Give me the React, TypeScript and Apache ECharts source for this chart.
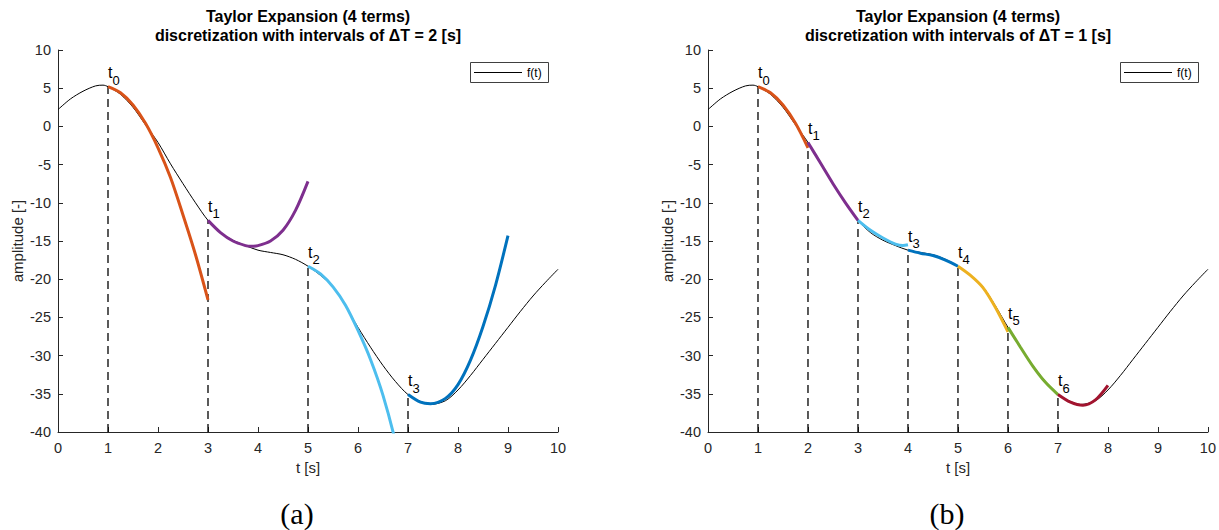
import React, { useEffect, useRef } from "react";
import * as echarts from "echarts";

// f(t)
const fT = [0, 0.25, 0.5, 0.75, 0.9, 1, 1.25, 1.5, 1.75, 2, 2.25, 2.5, 2.75, 3, 3.25, 3.5, 3.75, 4, 4.25, 4.5, 4.75, 5, 5.25, 5.5, 5.75, 6, 6.25, 6.5, 6.75, 7, 7.25, 7.45, 7.75, 8, 8.25, 8.5, 8.75, 9, 9.25, 9.5, 9.75, 10];
const fY = [2.2, 3.6, 4.6, 5.3, 5.4, 5.2, 4.2, 2.5, 0.2, -2.1, -4.9, -7.5, -10.0, -12.3, -13.9, -14.9, -15.6, -16.2, -16.5, -16.8, -17.4, -18.3, -19.5, -21.0, -23.5, -26.3, -28.9, -31.3, -33.4, -35.1, -36.0, -36.4, -35.9, -34.5, -32.6, -30.5, -28.4, -26.3, -24.2, -22.2, -20.4, -18.7];

// (a) ΔT = 2 segments
const aOrangeT = [1, 1.25, 1.5, 1.75, 2, 2.25, 2.5, 2.75, 3];
const aOrangeY = [5.2, 4.4, 2.8, 0.4, -2.8, -6.7, -11.6, -16.8, -22.7];
const aPurpleT = [3, 3.25, 3.5, 3.75, 3.85, 4, 4.25, 4.5, 4.75, 5];
const aPurpleY = [-12.3, -13.9, -15.0, -15.6, -15.7, -15.6, -15.0, -13.6, -11.0, -7.2];
const aCyanT = [5, 5.25, 5.5, 5.75, 6, 6.25, 6.5, 6.75, 7];
const aCyanY = [-18.3, -19.3, -21.0, -23.4, -26.7, -30.5, -35.2, -41.3, -49.0];
const aBlueT = [7, 7.25, 7.45, 7.75, 8, 8.25, 8.5, 8.75, 9];
const aBlueY = [-35.1, -36.1, -36.3, -35.6, -33.8, -30.6, -26.2, -20.8, -14.3];
const aNodeT = [1, 3, 5, 7];
const aNodeY = [5.2, -12.3, -18.3, -35.1];

// (b) ΔT = 1 segments
const bOrangeT = [1, 1.25, 1.5, 1.75, 2];
const bOrangeY = [5.2, 4.4, 2.8, 0.4, -2.8];
const bPurpleT = [2, 2.25, 2.5, 2.75, 3];
const bPurpleY = [-2.1, -4.8, -7.5, -10.0, -12.3];
const bCyanT = [3, 3.25, 3.5, 3.75, 3.9, 4];
const bCyanY = [-12.3, -13.6, -14.6, -15.4, -15.6, -15.5];
const bBlueT = [4, 4.25, 4.5, 4.75, 5];
const bBlueY = [-16.2, -16.6, -16.9, -17.5, -18.3];
const bYellowT = [5, 5.25, 5.5, 5.75, 6];
const bYellowY = [-18.3, -19.5, -21.1, -23.7, -26.9];
const bGreenT = [6, 6.25, 6.5, 6.75, 7];
const bGreenY = [-26.3, -28.9, -31.4, -33.5, -35.1];
const bRedT = [7, 7.25, 7.5, 7.75, 8];
const bRedY = [-35.1, -36.1, -36.5, -35.8, -33.9];
const bNodeT = [1, 2, 3, 4, 5, 6, 7];
const bNodeY = [5.2, -2.1, -12.3, -16.2, -18.3, -26.3, -35.1];

const titleLine1 = "Taylor Expansion (4 terms)";
const titleLine2 = ["discretization with intervals of ΔT = 2 [s]", "discretization with intervals of ΔT = 1 [s]"];
const captions = ["(a)", "(b)"];
const legendLabel = "f(t)";

const C = {
  orange: "#D95319",
  purple: "#7E2F8E",
  cyan: "#4DBEEE",
  blue: "#0072BD",
  yellow: "#EDB120",
  green: "#77AC30",
  red: "#A2142F",
};

const pairs = (t: number[], y: number[]) => t.map((v, i) => [v, y[i]]);

export default function App() {
  const ref = useRef<HTMLDivElement>(null);
  useEffect(() => {
    const chart = echarts.init(ref.current!, null, { renderer: "svg" });
    const FONT = "'Liberation Sans', Arial, Helvetica, sans-serif";
    const AX = "#262626";
    const gridLeft = [58, 708];

    const xAxis = [0, 1].map((i) => ({
      type: "value",
      gridIndex: i,
      min: 0,
      max: 10,
      interval: 1,
      name: "t [s]",
      nameLocation: "middle",
      nameGap: 26,
      nameTextStyle: { fontSize: 15, color: AX, fontFamily: FONT },
      axisLine: { onZero: false, lineStyle: { color: AX, width: 1 } },
      axisTick: { inside: true, length: 5, lineStyle: { color: AX } },
      axisLabel: { fontSize: 14.5, color: AX, fontFamily: FONT, margin: 8 },
      splitLine: { show: false },
    }));
    const yAxis = [0, 1].map((i) => ({
      type: "value",
      gridIndex: i,
      min: -40,
      max: 10,
      interval: 5,
      name: "amplitude [-]",
      nameLocation: "middle",
      nameGap: 33,
      nameRotate: 90,
      nameTextStyle: { fontSize: 15, color: AX, fontFamily: FONT },
      axisLine: { show: true, onZero: false, lineStyle: { color: AX, width: 1 } },
      axisTick: { show: true, inside: true, length: 5, lineStyle: { color: AX } },
      axisLabel: { fontSize: 14.5, color: AX, fontFamily: FONT, margin: 7 },
      splitLine: { show: false },
    }));

    const series: any[] = [];
    const addPanel = (
      idx: number,
      segs: [number[], number[], string][],
      nodeT: number[],
      nodeY: number[]
    ) => {
      nodeT.forEach((t, k) => {
        series.push({
          type: "line",
          xAxisIndex: idx,
          yAxisIndex: idx,
          data: [[t, -40], [t, nodeY[k]]],
          symbol: "none",
          silent: true,
          lineStyle: { color: "#000", width: 1.3, type: [8, 5] },
          z: 1,
        });
      });
      series.push({
        name: "f(t)",
        type: "line",
        xAxisIndex: idx,
        yAxisIndex: idx,
        data: pairs(fT, fY),
        symbol: "none",
        smooth: 0.3,
        lineStyle: { color: "#000", width: 1 },
        itemStyle: { color: "#000" },
        z: 2,
      });
      segs.forEach(([t, y, c]) => {
        series.push({
          type: "line",
          xAxisIndex: idx,
          yAxisIndex: idx,
          data: pairs(t, y),
          symbol: "none",
          smooth: 0.3,
          clip: true,
          lineStyle: { color: c, width: 3 },
          z: 3,
        });
      });
    };

    addPanel(
      0,
      [
        [aOrangeT, aOrangeY, C.orange],
        [aPurpleT, aPurpleY, C.purple],
        [aCyanT, aCyanY, C.cyan],
        [aBlueT, aBlueY, C.blue],
      ],
      aNodeT,
      aNodeY
    );
    addPanel(
      1,
      [
        [bOrangeT, bOrangeY, C.orange],
        [bPurpleT, bPurpleY, C.purple],
        [bCyanT, bCyanY, C.cyan],
        [bBlueT, bBlueY, C.blue],
        [bYellowT, bYellowY, C.yellow],
        [bGreenT, bGreenY, C.green],
        [bRedT, bRedY, C.red],
      ],
      bNodeT,
      bNodeY
    );

    chart.setOption({
      animation: false,
      backgroundColor: "#fff",
      grid: [
        { left: gridLeft[0], top: 50, width: 500, height: 382 },
        { left: gridLeft[1], top: 50, width: 500, height: 382 },
      ],
      xAxis,
      yAxis,
      series,
    });

    const graphic: any[] = [];
    [0, 1].forEach((i) => {
      const cx = gridLeft[i] + 250;
      graphic.push({
        type: "text",
        x: cx,
        y: 16,
        style: { text: titleLine1, textAlign: "center", textVerticalAlign: "middle", font: `bold 16px ${FONT}`, fill: "#000" },
      });
      graphic.push({
        type: "text",
        x: cx,
        y: 35,
        style: { text: titleLine2[i], textAlign: "center", textVerticalAlign: "middle", font: `bold 16px ${FONT}`, fill: "#000" },
      });
      graphic.push({
        type: "text",
        x: cx - 11,
        y: 513,
        style: { text: captions[i], textAlign: "center", textVerticalAlign: "middle", font: `30px 'Liberation Serif', 'DejaVu Serif', serif`, fill: "#000" },
      });
      // legend box
      const lx = gridLeft[i] + 412;
      graphic.push({
        type: "rect",
        shape: { x: lx + 0.5, y: 62.5, width: 78, height: 20 },
        style: { fill: "#fff", stroke: "#404040", lineWidth: 1 },
        z: 20,
      });
      graphic.push({
        type: "line",
        shape: { x1: lx + 4, y1: 72.5, x2: lx + 52, y2: 72.5 },
        style: { stroke: "#000", lineWidth: 1 },
        z: 21,
      });
      graphic.push({
        type: "text",
        x: lx + 57,
        y: 73,
        style: { text: legendLabel, textAlign: "left", textVerticalAlign: "middle", font: `12px ${FONT}`, fill: "#000" },
        z: 21,
      });
    });

    const nodeSets = [
      [aNodeT, aNodeY],
      [bNodeT, bNodeY],
    ];
    nodeSets.forEach(([nt, ny], gi) => {
      nt.forEach((t, k) => {
        const p = chart.convertToPixel({ gridIndex: gi }, [t, ny[k]]) as number[];
        graphic.push({
          type: "text",
          x: p[0],
          y: p[1] - 6,
          z: 25,
          style: {
            text: `{t|t}{s|${k}}`,
            textAlign: "left",
            textVerticalAlign: "bottom",
            fill: "#000",
            rich: {
              t: { fontSize: 16, lineHeight: 16, verticalAlign: "top", fill: "#000", fontFamily: FONT },
              s: { fontSize: 13, lineHeight: 13, padding: [9, 0, 0, 0], verticalAlign: "top", fill: "#000", fontFamily: FONT },
            },
          },
        });
      });
    });

    chart.setOption({ graphic });
    return () => chart.dispose();
  }, []);
  return (
    <div
      ref={ref}
      style={{ position: "fixed", left: 0, top: 0, width: 1219, height: 530, background: "#fff" }}
    />
  );
}
